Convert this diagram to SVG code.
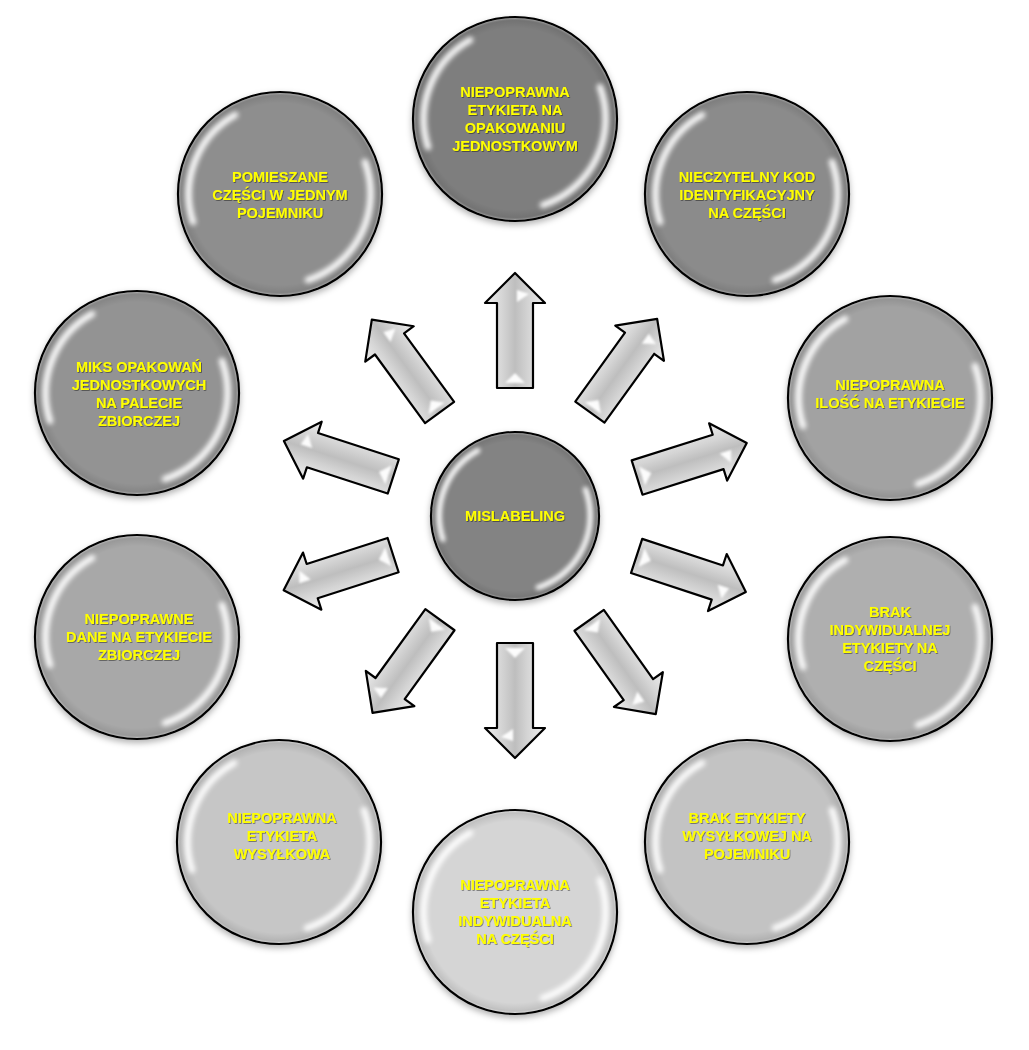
<svg xmlns="http://www.w3.org/2000/svg" xmlns:xlink="http://www.w3.org/1999/xlink" width="1029" height="1050" viewBox="0 0 1029 1050">
<defs>
<style>
.node circle.b{stroke:#000;stroke-width:2.2}
.t{font-family:"Liberation Sans",Arial,sans-serif;font-weight:700;font-size:14.5px;fill:#ffff00;text-anchor:middle;filter:url(#ts)}
.arr{fill:url(#ag);stroke:#000;stroke-width:2.2;stroke-linejoin:round}
.gl{fill:#fff;opacity:0.95}
</style>
<filter id="sh" x="-20%" y="-20%" width="140%" height="145%"><feDropShadow dx="0" dy="3" stdDeviation="3" flood-color="#000" flood-opacity="0.3"/></filter>
<filter id="ts" x="-10%" y="-30%" width="120%" height="160%"><feDropShadow dx="0.8" dy="0.8" stdDeviation="0.7" flood-color="#000" flood-opacity="0.5"/></filter>
<filter id="bl" x="-30%" y="-30%" width="160%" height="160%"><feGaussianBlur stdDeviation="2.4"/></filter>
<filter id="bl1" x="-30%" y="-30%" width="160%" height="160%"><feGaussianBlur stdDeviation="0.8"/></filter>
<radialGradient id="bev" cx="0.5" cy="0.5" r="0.5">
<stop offset="0.9" stop-color="#000" stop-opacity="0"/>
<stop offset="0.97" stop-color="#000" stop-opacity="0.08"/>
<stop offset="1" stop-color="#fff" stop-opacity="0.3"/>
</radialGradient>
<linearGradient id="ag" gradientUnits="userSpaceOnUse" x1="0" y1="-30" x2="0" y2="30">
<stop offset="0" stop-color="#eeeeee"/>
<stop offset="0.3" stop-color="#d4d4d4"/>
<stop offset="0.5" stop-color="#bebebe"/>
<stop offset="0.7" stop-color="#d2d2d2"/>
<stop offset="1" stop-color="#eeeeee"/>
</linearGradient>
<g id="gloss" filter="url(#bl)" fill="none" stroke="#fff" stroke-linecap="round">
<path d="M-87,28 A91,91 0 0 1 -45,-79" stroke-width="6.5" opacity="0.95"/>
<path d="M85,-32 A91,91 0 0 1 28,86" stroke-width="6.5" opacity="0.95"/>
</g>
<g id="arrow">
<path class="arr" d="M0,-18 L85,-18 L85,-30 L115,0 L85,30 L85,18 L0,18 Z"/>
<g filter="url(#bl1)">
<path class="gl" d="M5,-10 L5,10 L15,0 Z"/>
<path class="gl" d="M86,2 L98,2 L94,14 Z"/>
</g>
</g>
</defs>
<rect width="1029" height="1050" fill="#fff"/>

<g id="connectors">
<use xlink:href="#arrow" transform="translate(515,516) rotate(-90) translate(128,0)"/>
<use xlink:href="#arrow" transform="translate(515,516) rotate(-54.2) translate(128,0)"/>
<use xlink:href="#arrow" transform="translate(515,516) rotate(-17.5) translate(128,0)"/>
<use xlink:href="#arrow" transform="translate(515,516) rotate(18.2) translate(128,0)"/>
<use xlink:href="#arrow" transform="translate(515,516) rotate(54.6) translate(128,0)"/>
<use xlink:href="#arrow" transform="translate(515,516) rotate(90) translate(127,0)"/>
<use xlink:href="#arrow" transform="translate(515,516) rotate(125.9) translate(128,0)"/>
<use xlink:href="#arrow" transform="translate(515,516) rotate(162.2) translate(128,0)"/>
<use xlink:href="#arrow" transform="translate(515,516) rotate(-162) translate(128,0)"/>
<use xlink:href="#arrow" transform="translate(515,516) rotate(-126.1) translate(128,0)"/>
</g>

<g id="n-center" class="node">
<circle class="b" cx="515" cy="516" r="84" fill="#838383" filter="url(#sh)"/>
<circle cx="515" cy="516" r="83" fill="url(#bev)"/>
<use xlink:href="#gloss" transform="translate(515,516) scale(0.83)"/>
<text class="t" x="515" y="521">MISLABELING</text>
</g>

<g id="n-top" class="node">
<circle class="b" cx="515" cy="119" r="102" fill="#7e7e7e" filter="url(#sh)"/>
<circle cx="515" cy="119" r="101" fill="url(#bev)"/>
<use xlink:href="#gloss" transform="translate(515,119)"/>
<text class="t" x="515" y="97">NIEPOPRAWNA</text>
<text class="t" x="515" y="115">ETYKIETA NA</text>
<text class="t" x="515" y="133">OPAKOWANIU</text>
<text class="t" x="515" y="151">JEDNOSTKOWYM</text>
</g>

<g id="n-topright" class="node">
<circle class="b" cx="747" cy="194" r="102" fill="#8b8b8b" filter="url(#sh)"/>
<circle cx="747" cy="194" r="101" fill="url(#bev)"/>
<use xlink:href="#gloss" transform="translate(747,194)"/>
<text class="t" x="747" y="182">NIECZYTELNY KOD</text>
<text class="t" x="747" y="200">IDENTYFIKACYJNY</text>
<text class="t" x="747" y="218">NA CZĘŚCI</text>
</g>

<g id="n-right" class="node">
<circle class="b" cx="890" cy="398" r="102" fill="#a2a2a2" filter="url(#sh)"/>
<circle cx="890" cy="398" r="101" fill="url(#bev)"/>
<use xlink:href="#gloss" transform="translate(890,398)"/>
<text class="t" x="890" y="390">NIEPOPRAWNA</text>
<text class="t" x="890" y="408">ILOŚĆ NA ETYKIECIE</text>
</g>

<g id="n-rightlow" class="node">
<circle class="b" cx="890" cy="639" r="102" fill="#afafaf" filter="url(#sh)"/>
<circle cx="890" cy="639" r="101" fill="url(#bev)"/>
<use xlink:href="#gloss" transform="translate(890,639)"/>
<text class="t" x="890" y="617">BRAK</text>
<text class="t" x="890" y="635">INDYWIDUALNEJ</text>
<text class="t" x="890" y="653">ETYKIETY NA</text>
<text class="t" x="890" y="671">CZĘŚCI</text>
</g>

<g id="n-bottomright" class="node">
<circle class="b" cx="747" cy="842" r="102" fill="#c3c3c3" filter="url(#sh)"/>
<circle cx="747" cy="842" r="101" fill="url(#bev)"/>
<use xlink:href="#gloss" transform="translate(747,842)"/>
<text class="t" x="747" y="823">BRAK ETYKIETY</text>
<text class="t" x="747" y="841">WYSYŁKOWEJ NA</text>
<text class="t" x="747" y="859">POJEMNIKU</text>
</g>

<g id="n-bottom" class="node">
<circle class="b" cx="515" cy="912" r="102" fill="#d5d5d5" filter="url(#sh)"/>
<circle cx="515" cy="912" r="101" fill="url(#bev)"/>
<use xlink:href="#gloss" transform="translate(515,912)"/>
<text class="t" x="515" y="890">NIEPOPRAWNA</text>
<text class="t" x="515" y="908">ETYKIETA</text>
<text class="t" x="515" y="926">INDYWIDUALNA</text>
<text class="t" x="515" y="944">NA CZĘŚCI</text>
</g>

<g id="n-bottomleft" class="node">
<circle class="b" cx="279" cy="842" r="102" fill="#c6c6c6" filter="url(#sh)"/>
<circle cx="279" cy="842" r="101" fill="url(#bev)"/>
<use xlink:href="#gloss" transform="translate(279,842)"/>
<text class="t" x="282" y="823">NIEPOPRAWNA</text>
<text class="t" x="282" y="841">ETYKIETA</text>
<text class="t" x="282" y="859">WYSYŁKOWA</text>
</g>

<g id="n-leftlow" class="node">
<circle class="b" cx="137" cy="637" r="102" fill="#a8a8a8" filter="url(#sh)"/>
<circle cx="137" cy="637" r="101" fill="url(#bev)"/>
<use xlink:href="#gloss" transform="translate(137,637)"/>
<text class="t" x="139" y="624">NIEPOPRAWNE</text>
<text class="t" x="139" y="642">DANE NA ETYKIECIE</text>
<text class="t" x="139" y="660">ZBIORCZEJ</text>
</g>

<g id="n-left" class="node">
<circle class="b" cx="137" cy="393" r="102" fill="#939393" filter="url(#sh)"/>
<circle cx="137" cy="393" r="101" fill="url(#bev)"/>
<use xlink:href="#gloss" transform="translate(137,393)"/>
<text class="t" x="139" y="372">MIKS OPAKOWAŃ</text>
<text class="t" x="139" y="390">JEDNOSTKOWYCH</text>
<text class="t" x="139" y="408">NA PALECIE</text>
<text class="t" x="139" y="426">ZBIORCZEJ</text>
</g>

<g id="n-topleft" class="node">
<circle class="b" cx="280" cy="194" r="102" fill="#8e8e8e" filter="url(#sh)"/>
<circle cx="280" cy="194" r="101" fill="url(#bev)"/>
<use xlink:href="#gloss" transform="translate(280,194)"/>
<text class="t" x="280" y="182">POMIESZANE</text>
<text class="t" x="280" y="200">CZĘŚCI W JEDNYM</text>
<text class="t" x="280" y="218">POJEMNIKU</text>
</g>
</svg>
